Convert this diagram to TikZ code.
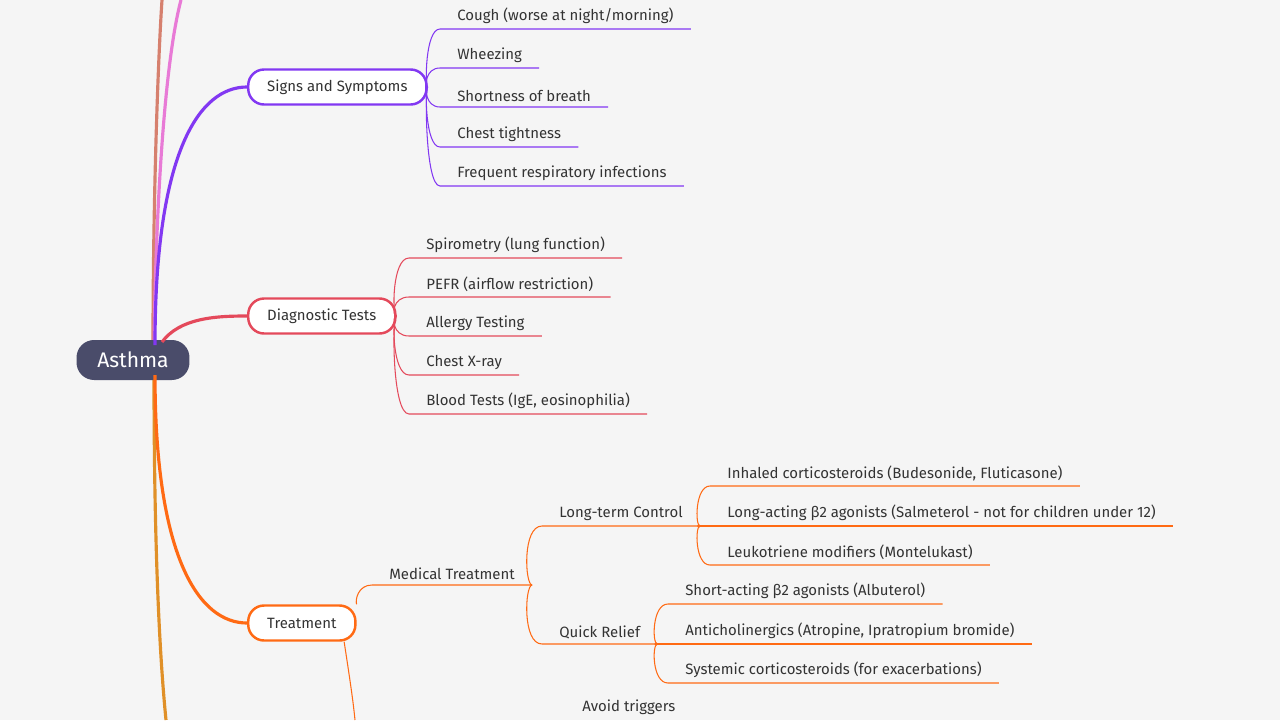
\documentclass[tikz,border=0pt]{standalone}
\usepackage{fontspec}
\setmainfont{Fira Sans}
\definecolor{bg}{HTML}{F5F5F5}
\definecolor{rootc}{HTML}{4A4C6A}
\definecolor{purp}{HTML}{8238F2}
\definecolor{redc}{HTML}{E4495B}
\definecolor{oran}{HTML}{FF6A14}
\definecolor{txt}{HTML}{333333}
\tikzset{
  topic/.style={draw, line width=1.4pt, rounded corners=9pt, fill=white, minimum height=0.7cm, inner xsep=0.38cm, anchor=west, text=txt, font=\fontsize{8.5}{10}\selectfont},
  leaf/.style={anchor=south west, inner xsep=0.34cm, inner ysep=0.1cm, text=txt, font=\fontsize{8.5}{10}\selectfont},
  link/.style={line width=0.6pt},
}
\begin{document}
\begin{tikzpicture}[x=0.02cm, y=-0.02cm]
\fill[bg] (0,0) rectangle (1280,720);
\useasboundingbox (0,0) rectangle (1280,720);

% off-screen branches
\draw[line width=1.8pt, color={rgb,255:red,214;green,128;blue,110}] (153,345) .. controls (153,200) and (158,60) .. (162,0);
\draw[line width=1.8pt, color={rgb,255:red,232;green,122;blue,214}] (154,345) .. controls (156,200) and (165,60) .. (181,0);
\draw[line width=1.8pt, color={rgb,255:red,224;green,144;blue,40}] (154,375) .. controls (154,520) and (158,640) .. (166,720);

\node[fill=rootc, rounded corners=10pt, minimum width=2.26cm, minimum height=0.8cm, text=white, font=\fontsize{12}{14}\selectfont] (root) at (133,360) {Asthma};

\node[topic, draw=purp] (sign) at (247,87) {Signs and Symptoms};
\node[topic, draw=redc] (diag) at (247,316) {Diagnostic Tests};
\node[topic, draw=oran] (treat) at (247,623) {Treatment};

\draw[purp, line width=1.8pt] (155,345) .. controls (155,150) and (200,87) .. (sign.west);
\draw[redc, line width=1.8pt] (162,342) .. controls (180,318) and (215,316) .. (diag.west);
\draw[oran, line width=1.8pt] (155,375) .. controls (155,560) and (200,623) .. (treat.west);

% signs and symptoms
\foreach \t/\y [count=\i] in {{Cough (worse at night/morning)}/29, Wheezing/68, Shortness of breath/107, Chest tightness/147, Frequent respiratory infections/186}{
  \node[leaf] (s\i) at (440,\y) {\t};
  \draw[purp, link] (sign.east) .. controls (425,87) and (425,\y) .. (s\i.south west) -- (s\i.south east);
}

% diagnostic tests
\foreach \t/\y [count=\i] in {Spirometry (lung function)/258, PEFR (airflow restriction)/297, Allergy Testing/336, Chest X-ray/375, {Blood Tests (IgE, eosinophilia)}/414}{
  \node[leaf] (d\i) at (409,\y) {\t};
  \draw[redc, link] (diag.east) .. controls (392,316) and (392,\y) .. (d\i.south west) -- (d\i.south east);
}

% treatment
\node[leaf] (med) at (372,585) {Medical Treatment};
\draw[oran, link] (treat.north east) .. controls (355,600) and (358,585) .. (med.south west) -- (med.south east);
\node[leaf] (long) at (542,526) {Long-term Control};
\node[leaf] (quick) at (542,644) {Quick Relief};
\draw[oran, link] (med.south east) .. controls (525,585) and (522,526) .. (long.south west) -- (long.south east);
\draw[oran, link] (med.south east) .. controls (525,585) and (522,644) .. (quick.south west) -- (quick.south east);

\foreach \t/\y [count=\i] in {{Inhaled corticosteroids (Budesonide, Fluticasone)}/486, Long-acting β2 agonists (Salmeterol - not for children under 12)/526, Leukotriene modifiers (Montelukast)/565}{
  \node[leaf] (l\i) at (710,\y) {\t};
  \draw[oran, link] (long.south east) .. controls (695,526) and (695,\y) .. (l\i.south west) -- (l\i.south east);
}
\foreach \t/\y [count=\i] in {Short-acting β2 agonists (Albuterol)/604, {Anticholinergics (Atropine, Ipratropium bromide)}/644, Systemic corticosteroids (for exacerbations)/683}{
  \node[leaf] (q\i) at (668,\y) {\t};
  \draw[oran, link] (quick.south east) .. controls (652,644) and (652,\y) .. (q\i.south west) -- (q\i.south east);
}

\coordinate (down) at (355,720);
\draw[oran, link] ([xshift=-0.25cm]treat.south east) .. controls (350,680) and (353,700) .. (down);
\node[leaf, anchor=base west] (avoid) at (565,711) {Avoid triggers};
\end{tikzpicture}
\end{document}
